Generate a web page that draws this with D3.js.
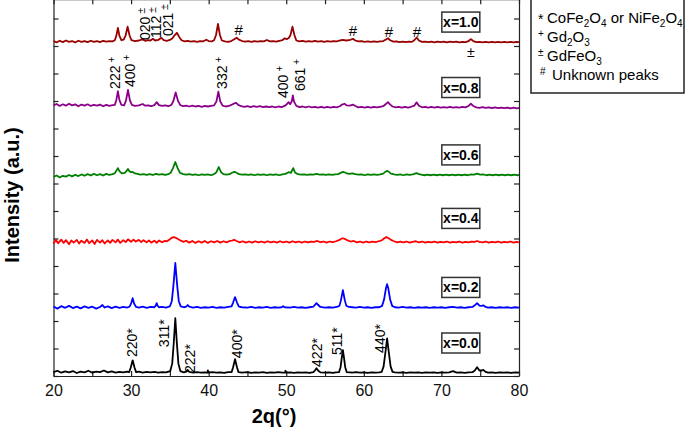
<!DOCTYPE html>
<html>
<head>
<meta charset="utf-8">
<script src="https://cdn.jsdelivr.net/npm/d3@7"></script>
<style>
  body { margin: 0; background: #fff; }
  text { font-family: Arial, "Liberation Sans", sans-serif; }
</style>
</head>
<body>
<div id="chart"></div>
<script>
// sample names, vertical offsets (counts) and colours, bottom to top
var samples = ["x=0.0", "x=0.2", "x=0.4", "x=0.6", "x=0.8", "x=1.0"];
var offsets = [10, 247, 487, 731, 978, 1215];
var colors = ["#000000", "#0000ff", "#ff0000", "#008000", "#8b008b", "#990000"];
var boxLevels = [120, 322, 573, 804, 1049, 1287];

// x ticks
var xLabelTicks = [20, 30, 40, 50, 60, 70, 80];
var xMinorTicks = [20, 25, 30, 35, 40, 45, 50, 55, 60, 65, 70, 75, 80];

// patterns: [2theta, counts above offset]
var pattern00 = [[20,4],[20.5,9],[21,2],[21.5,7],[22,3],[22.5,8],[23,1],[23.5,6],[24,3],[24.5,9],[25,2],[25.5,6],[26,4],[26.5,10],[27,3],[27.5,7],[28,2],[28.5,5],[29,3],[29.5,6],[29.75,4],[29.95,20],[30.2,47],[30.45,20],[30.65,4],[31,6],[31.5,2],[32,5],[32.5,3],[33,5],[33.5,2],[34,4],[34.5,3],[35.05,8],[35.3,35],[35.5,110],[35.7,200],[35.9,110],[36.1,35],[36.35,8],[36.8,3],[37.1,6],[37.3,12],[37.5,5],[38,2],[38.5,4],[39,2],[39.5,3],[39.85,2],[39.9,10],[39.95,2],[40.5,4],[41,2],[41.5,3],[42,1],[42.5,4],[42.95,4],[43.15,22],[43.4,51],[43.65,22],[43.85,4],[44.3,2],[45,4],[45.5,1],[46,3],[46.5,2],[47,4],[47.5,1],[48,3],[48.5,2],[49,4],[49.5,2],[49.85,2],[49.9,9],[49.95,2],[50.5,3],[51,1],[51.5,3],[52,2],[52.5,3],[53,1],[53.5,4],[53.7,10],[53.9,18],[54.1,10],[54.4,3],[55,2],[55.5,3],[56,1],[56.4,3],[56.8,4],[57.0,22],[57.15,55],[57.3,84],[57.45,55],[57.6,22],[57.8,4],[58.2,3],[58.5,2],[59,4],[59.5,2],[60,3],[60.5,1],[61,3],[61.5,2],[62,3],[62.3,5],[62.55,25],[62.8,80],[63.0,127],[63.2,80],[63.45,25],[63.7,5],[64,3],[64.5,2],[65,3],[65.5,1],[66,3],[66.5,2],[67,3],[67.5,1],[68,3],[68.5,2],[69,3],[69.5,1],[70,3],[70.5,2],[71,3],[71.3,6],[71.5,8],[71.7,5],[72,2],[72.5,3],[73,1],[73.5,3],[74,4],[74.3,10],[74.6,22],[74.9,10],[75.2,10],[75.4,12],[75.7,5],[76,2],[76.5,3],[77,1],[77.5,3],[78,2],[78.5,3],[79,1],[79.5,3],[80,2]];

var pattern02 = [[20,6],[20.5,-2],[21,7],[21.5,1],[22,8],[22.5,0],[23,5],[23.5,-1],[24,6],[24.5,1],[25,5],[25.5,-2],[26,4],[26.3,11],[26.6,2],[27,6],[27.5,0],[28,5],[28.5,1],[29,4],[29.5,2],[29.8,5],[30.0,16],[30.2,36],[30.4,16],[30.65,4],[31,2],[31.5,5],[32,1],[32.5,4],[33.0,3],[33.2,10],[33.3,18],[33.4,9],[33.6,3],[34,4],[34.5,2],[35.0,6],[35.25,25],[35.45,80],[35.7,164],[35.95,80],[36.15,25],[36.4,6],[36.8,3],[37.1,5],[37.3,11],[37.5,5],[38,2],[38.5,4],[39,1],[39.5,3],[40,2],[40.5,4],[41,1],[41.5,3],[42,2],[42.5,4],[42.95,6],[43.15,20],[43.4,40],[43.65,20],[43.9,5],[44.3,3],[45,2],[45.5,4],[46,1],[46.5,3],[47,2],[47.5,4],[48,1],[48.5,3],[49,2],[49.4,3],[49.6,7],[49.8,3],[50.5,2],[51,4],[51.5,2],[52,3],[52.5,1],[53,3],[53.5,5],[53.7,12],[53.9,18],[54.1,12],[54.4,4],[55,2],[55.5,3],[56,2],[56.5,4],[56.85,8],[57.05,28],[57.3,65],[57.55,28],[57.75,8],[58.1,4],[58.5,3],[59,2],[59.5,4],[60,2],[60.5,3],[61,1],[61.5,3],[62,3],[62.35,8],[62.6,30],[62.85,72],[63.0,87],[63.15,72],[63.4,30],[63.65,8],[64,3],[64.5,2],[65,4],[65.5,2],[66,3],[66.5,1],[67,3],[67.5,2],[68,3],[68.5,1],[69,3],[69.5,2],[70,3],[70.5,1],[71,3],[71.5,4],[72,2],[72.5,3],[73,1],[73.5,3],[74,4],[74.3,10],[74.6,18],[74.9,9],[75.2,8],[75.4,10],[75.7,4],[76,2],[76.5,3],[77,1],[77.5,3],[78,2],[78.5,3],[79,1],[79.5,3],[80,2]];

var pattern04 = [[20,-6],[20.3,8],[20.6,-4],[21,9],[21.3,-3],[21.6,7],[22,-8],[22.3,6],[22.6,-2],[23,8],[23.3,-5],[23.6,5],[24,-3],[24.3,9],[24.6,-4],[25,6],[25.3,-7],[25.6,8],[26,-2],[26.3,7],[26.6,-5],[27,6],[27.3,-3],[27.6,8],[28,-1],[28.3,9],[28.6,-3],[29,7],[29.3,0],[29.6,10],[30,1],[30.3,9],[30.6,2],[31,8],[31.3,0],[31.6,7],[32,-1],[32.3,6],[32.6,-2],[33,5],[33.3,-3],[33.6,6],[34,-1],[34.3,4],[34.6,3],[34.9,8],[35.2,15],[35.5,18],[35.8,15],[36.1,10],[36.4,5],[36.8,1],[37.1,5],[37.5,-2],[37.9,4],[38.3,-3],[38.7,3],[39.1,-2],[39.5,4],[39.9,-3],[40.3,3],[40.7,-1],[41.1,4],[41.5,-2],[41.9,3],[42.3,-1],[42.7,4],[43.0,5],[43.3,8],[43.6,4],[44,-1],[44.4,3],[44.8,-2],[45.2,2],[45.6,-2],[46,3],[46.4,-1],[46.8,2],[47.2,-2],[47.6,3],[48,-1],[48.4,2],[48.8,-2],[49.2,3],[49.6,-1],[50,2],[50.4,-2],[50.8,3],[51.2,-1],[51.6,2],[52,-2],[52.4,2],[52.8,-1],[53.2,2],[53.6,1],[54,4],[54.4,0],[54.8,2],[55.2,-2],[55.6,2],[56,0],[56.4,3],[56.8,7],[57.1,12],[57.3,14],[57.6,11],[57.9,6],[58.3,2],[58.7,4],[59.1,-1],[59.5,2],[59.9,-2],[60.3,2],[60.7,-1],[61.1,2],[61.5,0],[61.9,3],[62.3,6],[62.6,13],[62.9,18],[63.2,14],[63.5,8],[63.9,3],[64.3,-1],[64.7,2],[65.1,-1],[65.5,2],[65.9,-2],[66.3,1],[66.7,3],[67.1,-1],[67.5,2],[67.9,-2],[68.3,1],[68.7,-1],[69.1,2],[69.5,-2],[69.9,1],[70.3,-1],[70.7,2],[71.1,-2],[71.5,1],[71.9,-1],[72.3,2],[72.7,-2],[73.1,1],[73.5,-1],[73.9,2],[74.3,1],[74.6,4],[74.9,1],[75.3,-1],[75.7,2],[76.1,-2],[76.5,1],[76.9,-1],[77.3,2],[77.7,-2],[78.1,1],[78.5,-1],[78.9,2],[79.3,-2],[79.7,1],[80,-1]];

var pattern06 = [[20,-7],[20.4,-2],[20.8,-9],[21.2,-3],[21.6,-6],[22,0],[22.4,-5],[22.8,1],[23.2,-4],[23.6,2],[24,-3],[24.4,3],[24.8,-2],[25.2,4],[25.6,-1],[26,3],[26.4,-2],[26.8,4],[27.2,0],[27.6,3],[27.9,6],[28.1,15],[28.3,25],[28.5,14],[28.8,6],[29.2,8],[29.4,14],[29.6,22],[29.8,13],[30.0,10],[30.2,11],[30.4,7],[30.8,4],[31.2,1],[31.6,3],[32,0],[32.4,3],[32.8,0],[33.2,4],[33.6,1],[34,3],[34.4,0],[34.8,3],[35.1,8],[35.4,25],[35.7,47],[36.0,25],[36.3,8],[36.7,3],[37.1,1],[37.5,3],[37.9,0],[38.3,2],[38.7,-1],[39.1,2],[39.5,0],[39.9,2],[40.3,-1],[40.7,3],[41.0,10],[41.3,29],[41.6,10],[41.9,3],[42.3,1],[42.7,3],[43.0,8],[43.3,11],[43.6,8],[43.9,3],[44.3,1],[44.7,2],[45.1,0],[45.5,2],[45.9,-1],[46.3,2],[46.7,0],[47.1,2],[47.5,-1],[47.9,2],[48.3,0],[48.7,2],[49.1,-1],[49.5,2],[49.9,4],[50.3,10],[50.6,8],[50.9,25],[51.15,8],[51.5,3],[51.9,1],[52.3,2],[52.7,0],[53.1,2],[53.5,1],[53.9,4],[54.3,1],[54.7,2],[55.1,0],[55.5,2],[55.9,0],[56.3,2],[56.7,3],[57.1,9],[57.4,11],[57.7,7],[58.1,4],[58.5,6],[58.9,3],[59.3,1],[59.7,2],[60.1,-1],[60.5,2],[60.9,0],[61.3,2],[61.7,0],[62.1,2],[62.5,5],[62.8,12],[63.0,15],[63.2,12],[63.5,5],[63.9,2],[64.3,0],[64.7,2],[65.1,-1],[65.5,2],[65.9,0],[66.3,2],[66.6,5],[66.8,7],[67.0,4],[67.4,1],[67.8,-1],[68.2,1],[68.6,-1],[69,1],[69.4,-1],[69.8,1],[70.2,-1],[70.6,1],[71,-1],[71.4,1],[71.8,-1],[72.2,1],[72.6,-1],[73,1],[73.4,-1],[73.8,2],[74.2,1],[74.6,5],[75,1],[75.4,2],[75.8,-1],[76.2,1],[76.6,-1],[77,1],[77.4,-1],[77.8,1],[78.2,-1],[78.6,1],[79,-1],[79.4,1],[79.8,-1],[80,0]];

var pattern08 = [[20,6],[20.4,11],[20.8,4],[21.2,10],[21.6,5],[22,12],[22.4,6],[22.8,10],[23.2,3],[23.6,9],[24,5],[24.4,10],[24.8,4],[25.2,8],[25.6,5],[26,9],[26.4,3],[26.8,8],[27.2,4],[27.6,7],[27.9,8],[28.1,25],[28.3,58],[28.5,25],[28.75,8],[29.1,6],[29.35,24],[29.6,62],[29.85,24],[30.1,8],[30.5,4],[31.0,6],[31.5,11],[31.8,5],[32.2,6],[32.6,3],[33.0,7],[33.3,18],[33.6,7],[34.0,4],[34.4,6],[34.8,3],[35.2,8],[35.45,22],[35.75,53],[36.05,22],[36.35,7],[36.7,3],[37.1,5],[37.5,2],[37.9,5],[38.3,2],[38.7,4],[39.1,1],[39.5,4],[39.9,2],[40.3,4],[40.7,6],[41.0,20],[41.25,56],[41.5,20],[41.8,5],[42.2,2],[42.6,4],[43.0,9],[43.3,13],[43.55,15],[43.8,8],[44.2,3],[44.6,1],[45,3],[45.4,0],[45.8,3],[46.2,1],[46.6,3],[47,0],[47.4,2],[47.8,0],[48.2,2],[48.6,-1],[49,2],[49.4,0],[49.8,4],[50.1,11],[50.3,18],[50.5,10],[50.7,20],[50.85,42],[51.0,20],[51.3,4],[51.7,0],[52.1,2],[52.5,-1],[52.9,2],[53.3,-1],[53.7,1],[54.1,-2],[54.5,1],[54.9,-2],[55.3,1],[55.7,-2],[56.1,1],[56.5,-1],[56.9,3],[57.2,9],[57.5,12],[57.8,6],[58.2,5],[58.6,9],[58.9,4],[59.3,-1],[59.7,1],[60.1,-2],[60.5,1],[60.9,-2],[61.3,1],[61.7,-1],[62.1,1],[62.5,3],[62.8,10],[63.1,18],[63.4,9],[63.7,2],[64.1,-1],[64.5,1],[64.9,-2],[65.3,1],[65.7,-2],[66.1,1],[66.5,5],[66.8,17],[67.1,5],[67.5,-1],[67.9,1],[68.3,-2],[68.7,1],[69.1,-2],[69.5,1],[69.9,-2],[70.3,0],[70.7,-2],[71.1,1],[71.5,-2],[71.9,0],[72.3,-2],[72.7,1],[73.1,-1],[73.5,4],[73.8,12],[74.1,4],[74.5,-1],[74.9,-3],[75.3,0],[75.7,-3],[76.1,-1],[76.5,-4],[76.9,-1],[77.3,-4],[77.7,-2],[78.1,-4],[78.5,-2],[78.9,-5],[79.3,-2],[79.7,-5],[80,-3]];

var pattern10 = [[20,3],[20.4,-2],[20.8,4],[21.2,-1],[21.6,5],[22,0],[22.4,3],[22.8,-2],[23.2,4],[23.6,0],[24,3],[24.4,-1],[24.8,4],[25.2,0],[25.6,3],[26,-1],[26.4,4],[26.8,1],[27.2,3],[27.6,2],[27.9,6],[28.1,22],[28.3,51],[28.5,22],[28.75,6],[29.05,8],[29.3,24],[29.55,55],[29.8,24],[30.05,6],[30.5,3],[31.0,5],[31.5,9],[31.8,4],[32.2,6],[32.5,5],[32.8,11],[33.1,5],[33.5,7],[33.9,15],[34.2,6],[34.6,4],[35.0,7],[35.3,12],[35.6,24],[35.9,33],[36.2,18],[36.5,6],[36.9,2],[37.3,4],[37.7,1],[38.1,3],[38.5,0],[38.9,3],[39.3,2],[39.7,8],[40.0,3],[40.4,2],[40.7,6],[40.95,25],[41.2,65],[41.45,25],[41.7,5],[42.1,2],[42.5,0],[42.9,3],[43.2,8],[43.6,15],[43.9,8],[44.3,3],[44.7,1],[45.1,3],[45.5,0],[45.9,3],[46.3,1],[46.7,3],[47.1,2],[47.5,7],[47.9,2],[48.3,3],[48.7,1],[49.1,4],[49.5,6],[49.8,13],[50.1,10],[50.35,15],[50.55,25],[50.8,55],[51.05,25],[51.3,5],[51.7,2],[52.1,4],[52.5,1],[52.9,3],[53.3,1],[53.7,4],[54.1,1],[54.5,3],[54.9,0],[55.3,3],[55.7,1],[56.1,3],[56.5,2],[56.9,5],[57.3,7],[57.7,5],[58.1,6],[58.6,11],[58.9,5],[59.3,2],[59.7,3],[60.1,0],[60.5,2],[60.9,0],[61.3,2],[61.7,0],[62.1,2],[62.5,3],[62.8,8],[63.1,13],[63.4,6],[63.8,1],[64.2,2],[64.6,-1],[65,1],[65.4,-1],[65.8,1],[66.2,0],[66.5,6],[66.8,16],[67.1,5],[67.5,0],[67.9,1],[68.3,-1],[68.7,1],[69.1,-2],[69.5,1],[69.9,-1],[70.3,1],[70.7,-2],[71.1,1],[71.5,-1],[71.9,1],[72.3,-2],[72.7,0],[73.1,-1],[73.5,3],[73.8,10],[74.1,3],[74.5,-1],[74.9,0],[75.3,-2],[75.7,0],[76.1,-2],[76.5,0],[76.9,-2],[77.3,0],[77.7,-2],[78.1,0],[78.5,-2],[78.9,0],[79.3,-2],[79.7,0],[80,-1]];

var patterns = [pattern00, pattern02, pattern04, pattern06, pattern08, pattern10];

// peak labels: [hkl, 2theta, counts where the text starts]
var spinelLabels = [["220", 30.06, 69], ["311", 34.3, 105], ["222", 37.55, 11], ["400", 43.6, 65], ["422", 53.9, 33], ["511", 56.5, 76], ["440", 62.1, 84]];
var gdOxideLabels = [["222", 27.9, 1044], ["400", 29.8, 1051], ["332", 41.7, 1044], ["400", 49.55, 1011], ["661", 51.75, 1036]];
var gdFeO3Labels = [["020", 31.75, 1222], ["112", 33.2, 1229], ["021", 34.7, 1236]];
var unknownMarks = [[43.87, 1258], [58.58, 1255], [63.23, 1251], [66.84, 1251]];
var gdFeO3Marks = [[73.8, 1178]];

var width = 685;
var height = 433;

var svg = d3.select("#chart")
    .append("svg")
    .attr("width", width)
    .attr("height", height);

var xScale = d3.scaleLinear()
    .domain([20, 80])
    .range([53.5, 519]);

var yScale = d3.scaleLinear()
    .domain([0, 1370])
    .range([376, -0.75]);

var yTicks = d3.range(0, 1400, 100);

// frame axes, ticks pointing inward
svg.append("g")
    .attr("class", "xAxis")
    .attr("transform", `translate(0, ${yScale(0)})`)
    .call(d3.axisBottom(xScale).tickValues(xMinorTicks).tickSizeInner(-5).tickSizeOuter(0).tickPadding(9)
        .tickFormat(function(d) { return xLabelTicks.indexOf(d) >= 0 ? d : ""; }));

svg.append("g")
    .attr("transform", `translate(0, ${yScale(1370)})`)
    .call(d3.axisTop(xScale).tickValues(xMinorTicks).tickSizeInner(-5).tickSizeOuter(0).tickFormat(""));

svg.append("g")
    .attr("transform", `translate(${xScale(20)}, 0)`)
    .call(d3.axisLeft(yScale).tickValues(yTicks).tickSizeInner(-5).tickSizeOuter(0).tickFormat(""));

svg.append("g")
    .attr("transform", `translate(${xScale(80)}, 0)`)
    .call(d3.axisRight(yScale).tickValues(yTicks).tickSizeInner(-5).tickSizeOuter(0).tickFormat(""));

svg.selectAll(".domain, .tick line")
    .attr("stroke", "#222")
    .attr("stroke-width", 1.2);

svg.selectAll(".xAxis .tick text")
    .attr("font-size", 16)
    .attr("fill", "#111");

// patterns
patterns.forEach(function(pts, i) {
    var line = d3.line()
        .x(function(d) { return xScale(d[0]); })
        .y(function(d) { return yScale(d[1] + offsets[i]); });

    svg.append("path")
        .datum(pts)
        .attr("fill", "none")
        .attr("stroke", colors[i])
        .attr("stroke-width", 1.8)
        .attr("stroke-linejoin", "round")
        .attr("d", line);
});

// sample boxes
samples.forEach(function(name, i) {
    var g = svg.append("g")
        .attr("transform", `translate(${xScale(72.5)}, ${yScale(boxLevels[i])})`);
    g.append("rect")
        .attr("x", -19)
        .attr("y", -10)
        .attr("width", 38)
        .attr("height", 20)
        .attr("fill", "#fff")
        .attr("stroke", "#333")
        .attr("stroke-width", 1.5);
    g.append("text")
        .attr("text-anchor", "middle")
        .attr("dy", "0.36em")
        .attr("font-size", 14)
        .attr("font-weight", "bold")
        .text(name);
});

// rotated peak labels
function peakLabel(d, mark, raised) {
    var t = svg.append("text")
        .attr("transform", `translate(${xScale(d[1])}, ${yScale(d[2])}) rotate(-90)`)
        .attr("dy", "0.36em")
        .attr("font-size", 14)
        .text(d[0]);
    if (raised) {
        t.append("tspan")
            .attr("dx", 3)
            .attr("dy", "-0.45em")
            .attr("font-size", 10)
            .text(mark);
    } else {
        t.append("tspan").text(mark);
    }
}

spinelLabels.forEach(function(d) { peakLabel(d, "*", false); });
gdOxideLabels.forEach(function(d) { peakLabel(d, "+", true); });
gdFeO3Labels.forEach(function(d) { peakLabel(d, "±", true); });

unknownMarks.forEach(function(d) {
    svg.append("text")
        .attr("x", xScale(d[0]))
        .attr("y", yScale(d[1]))
        .attr("dy", "0.36em")
        .attr("text-anchor", "middle")
        .attr("font-size", 15)
        .text("#");
});

gdFeO3Marks.forEach(function(d) {
    svg.append("text")
        .attr("x", xScale(d[0]))
        .attr("y", yScale(d[1]))
        .attr("dy", "0.36em")
        .attr("text-anchor", "middle")
        .attr("font-size", 14)
        .text("±");
});

// axis titles
svg.append("text")
    .attr("transform", "translate(19, 195) rotate(-90)")
    .attr("text-anchor", "middle")
    .attr("font-size", 20)
    .attr("font-weight", "bold")
    .text("Intensity (a.u.)");

svg.append("text")
    .attr("x", 274)
    .attr("y", 423)
    .attr("text-anchor", "middle")
    .attr("font-size", 20)
    .attr("font-weight", "bold")
    .text("2q(°)");

// legend
var legendMarks = ["*", "+", "±", "#"];
var legendParts = [
    [["CoFe", 0], ["2", 1], ["O", 0], ["4", 1], [" or NiFe", 0], ["2", 1], ["O", 0], ["4", 1]],
    [["Gd", 0], ["2", 1], ["O", 0], ["3", 1]],
    [["GdFeO", 0], ["3", 1]],
    [["Unknown peaks", 0]]
];

var legend = svg.append("g");
legend.append("rect")
    .attr("x", 531)
    .attr("y", -1)
    .attr("width", 153)
    .attr("height", 94)
    .attr("fill", "#fff")
    .attr("stroke", "#222")
    .attr("stroke-width", 1.5);

legendParts.forEach(function(parts, i) {
    var base = 23 + i * 19;
    legend.append("text")
        .attr("x", i == 3 ? 540 : 538)
        .attr("y", i == 0 ? base + 1 : base - 5)
        .attr("font-size", i == 0 ? 14 : 10)
        .text(legendMarks[i]);

    var t = legend.append("text")
        .attr("x", i == 3 ? 552 : 547)
        .attr("y", base)
        .attr("font-size", 15);
    var shift = 0;
    parts.forEach(function(p) {
        var want = p[1] ? 4 : 0;
        t.append("tspan")
            .attr("dy", want - shift)
            .attr("font-size", p[1] ? 10 : 15)
            .text(p[0]);
        shift = want;
    });
});
</script>
</body>
</html>
